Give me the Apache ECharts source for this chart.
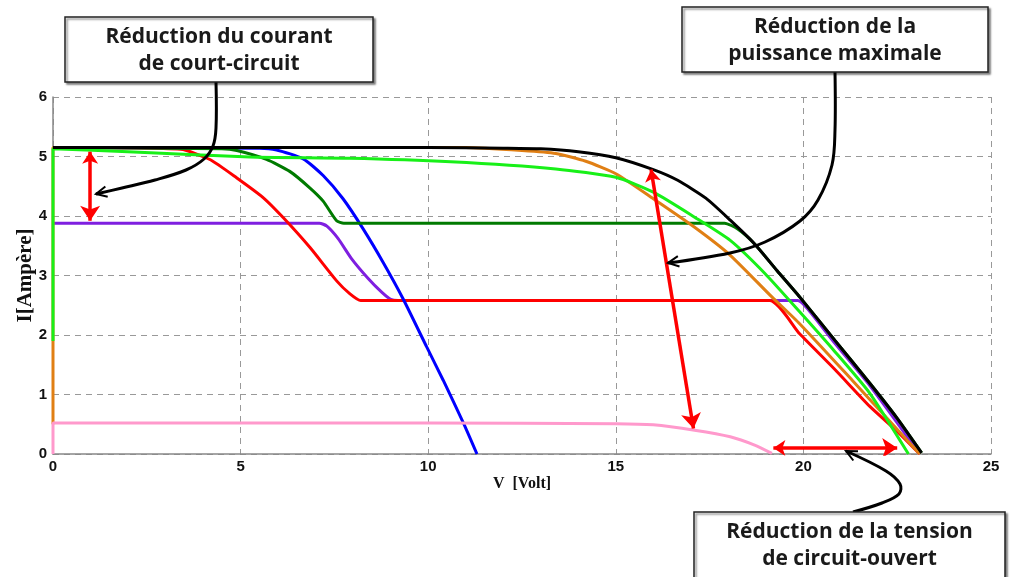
<!DOCTYPE html>
<html>
<head>
<meta charset="utf-8">
<script src="https://cdn.jsdelivr.net/npm/echarts@6/dist/echarts.min.js"></script>
<style>
html,body{margin:0;padding:0;background:#fff;}
#chart{width:1011px;height:577px;}
</style>
</head>
<body>
<div id="chart"></div>
<script>
// ---- Data ----
const xTicks = [0, 5, 10, 15, 20, 25];
const yTicks = [0, 1, 2, 3, 4, 5, 6];

const curveBlack = [[0,5.15],[10,5.15],[12,5.14],[13,5.13],[14,5.08],[15,4.98],[16,4.78],[16.65,4.6],[17.4,4.3],[18.05,3.93],[18.7,3.53],[19.3,3.08],[19.9,2.64],[20.84,1.91],[21.77,1.19],[22.5,0.6],[23.15,0.02]];
const curveOrange = [[0,0.5],[0,5.15],[11,5.15],[12.5,5.1],[13.4,5.05],[14.2,4.92],[15,4.71],[16,4.29],[17.1,3.81],[18.05,3.34],[19.16,2.64],[19.9,2.19],[21.3,1.24],[22.2,0.62],[23.1,0]];
const curveGreen = [[0,1.9],[0,5.13],[2,5.08],[5.25,4.99],[7.9,4.97],[10.6,4.91],[13.4,4.79],[15,4.65],[16,4.4],[17.1,3.98],[18.05,3.59],[18.98,3.03],[19.9,2.39],[20.84,1.72],[21.77,1.02],[22.8,0]];
const curveDarkGreen = [[0,5.15],[4.5,5.13],[4.9,5.1],[5.69,4.95],[6.31,4.75],[6.85,4.47],[7.2,4.25],[7.56,3.92],[7.75,3.88],[17.9,3.88],[18.25,3.78],[18.7,3.53],[19.3,3.08],[19.9,2.64],[20.84,1.91],[21.77,1.19],[22.5,0.6],[23.15,0.02]];
const curveBlue = [[0,5.15],[5.5,5.14],[5.96,5.11],[6.67,4.96],[7.2,4.68],[7.73,4.29],[8.27,3.78],[8.8,3.22],[9.33,2.61],[9.96,1.80],[10.4,1.24],[10.94,0.52],[11.3,0]];
const curveRed = [[0,5.15],[3.4,5.12],[4.18,4.95],[4.9,4.64],[5.6,4.31],[6.14,3.97],[6.85,3.47],[7.56,2.91],[7.9,2.7],[8.2,2.58],[19.1,2.58],[19.9,2.02],[20.84,1.42],[21.77,0.8],[22.5,0.38],[23.1,0]];
const curvePurple = [[0,3.88],[7.1,3.88],[7.3,3.83],[7.6,3.62],[7.96,3.28],[8.4,2.95],[8.76,2.72],[9.0,2.6],[9.2,2.58],[19.85,2.58],[20.1,2.45],[20.84,1.86],[21.77,1.15],[23.1,0]];
const curvePink = [[0,0],[0,0.52],[10,0.52],[15,0.51],[16,0.49],[17.1,0.40],[18.05,0.29],[18.7,0.15],[19.16,0.01]];

// red double arrows (data coordinates)
const arrowIsc = [[0.99,5.08],[0.99,3.92]];
const arrowPmax = [[15.94,4.78],[17.07,0.43]];
const arrowVoc = [[19.2,0.1],[22.5,0.1]];

const xLabel = 'V  [Volt]';
const yLabel = 'I[Ampère]';
const boxTexts = [
  ['Réduction du courant', 'de court-circuit'],
  ['Réduction de la', 'puissance maximale'],
  ['Réduction de la tension', 'de circuit-ouvert']
];

// ---- Layout of the callouts (pixels) ----
const boxRects = [
  {x:65, y:17, w:308, h:65},
  {x:682, y:7, w:306, h:65},
  {x:694, y:512, w:311, h:70}
];
const calloutPaths = [
  [[216,82],[216,128],[213,146],[204,159],[186,170],[155,180],[122,188],[96,194]],
  [[835,72],[835,130],[832,165],[818,200],[800,221],[765,242],[730,253],[668,263]],
  [[853,512],[882,503],[899,494],[900,484],[886,471],[846,451]]
];

function arrowHead(path, len, ang) {
  const tip = path[path.length-1], from = path[path.length-2];
  const dx = from[0]-tip[0], dy = from[1]-tip[1];
  const d = Math.hypot(dx,dy), ux = dx/d, uy = dy/d;
  const rot = a => [tip[0]+len*(ux*Math.cos(a)-uy*Math.sin(a)), tip[1]+len*(ux*Math.sin(a)+uy*Math.cos(a))];
  return [rot(ang), tip, rot(-ang)];
}

const graphics = [];
boxRects.forEach((r, i) => {
  graphics.push({
    type:'rect', shape:{x:r.x, y:r.y, width:r.w, height:r.h},
    style:{fill:'#fff', stroke:'#222', lineWidth:1.5, shadowColor:'rgba(0,0,0,0.45)', shadowOffsetX:2, shadowOffsetY:2, shadowBlur:2},
    z:100
  });
  boxTexts[i].forEach((t, j) => {
    graphics.push({
      type:'text', x:r.x + r.w/2, y:r.y + 20 + j*27,
      style:{text:t, fill:'#1a1a1a', font:'bold 21px "Open Sans", sans-serif', textAlign:'center', textVerticalAlign:'middle'},
      z:101
    });
  });
});
calloutPaths.forEach(p => {
  graphics.push({type:'polyline', shape:{points:p, smooth:0.35}, style:{stroke:'#000', lineWidth:3, fill:null}, z:90});
  graphics.push({type:'polyline', shape:{points:arrowHead(p, 12, 0.45)}, style:{stroke:'#000', lineWidth:2, fill:null}, z:91});
});

function lineSeries(name, data, color, z) {
  return {
    name, type:'line', data, showSymbol:false, symbol:'none', smooth:0.2,
    lineStyle:{color, width:3}, z, animation:false
  };
}
function arrowSeries(coords) {
  return {
    type:'lines', coordinateSystem:'cartesian2d', z:20, animation:false,
    symbol:['arrow','arrow'], symbolSize:[12,15],
    lineStyle:{color:'#ff0000', width:3.5, opacity:1},
    data:[{coords}]
  };
}

const chart = echarts.init(document.getElementById('chart'), null, {renderer:'canvas'});
chart.setOption({
  animation:false,
  backgroundColor:'#fff',
  grid:{left:53, right:20, top:97, bottom:123, containLabel:false, outerBoundsMode:'none'},
  xAxis:{
    type:'value', min:0, max:25, interval:5,
    name:xLabel, nameLocation:'middle', nameGap:22, nameMoveOverlap:false,
    nameTextStyle:{fontFamily:'Liberation Serif', fontWeight:'bold', fontSize:16, color:'#111'},
    axisLine:{show:true, onZero:false, lineStyle:{color:'#888', width:1.5}},
    axisTick:{show:false},
    axisLabel:{color:'#111', fontFamily:'Liberation Sans', fontWeight:'bold', fontSize:15, margin:5,
      formatter:v => xTicks.includes(v) ? String(v) : ''},
    splitLine:{show:true, lineStyle:{color:'#999', type:[6,5], width:1}}
  },
  yAxis:{
    type:'value', min:0, max:6, interval:1,
    name:yLabel, nameLocation:'middle', nameGap:17, nameRotate:90, nameMoveOverlap:false,
    nameTextStyle:{fontFamily:'Liberation Serif', fontWeight:'bold', fontSize:21, color:'#111'},
    axisLine:{show:true, onZero:false, lineStyle:{color:'#888', width:1.5}},
    axisTick:{show:false},
    axisLabel:{color:'#111', fontFamily:'Liberation Sans', fontWeight:'bold', fontSize:15, margin:6,
      formatter:v => yTicks.includes(v) ? String(v) : ''},
    splitLine:{show:true, lineStyle:{color:'#999', type:[6,5], width:1}}
  },
  series:[
    lineSeries('purple', curvePurple, '#7f1fe0', 2),
    lineSeries('red', curveRed, '#ff0000', 3),
    lineSeries('blue', curveBlue, '#0000ff', 4),
    lineSeries('darkgreen', curveDarkGreen, '#007a00', 5),
    lineSeries('orange', curveOrange, '#e07f14', 6),
    lineSeries('green', curveGreen, '#18f018', 7),
    lineSeries('pink', curvePink, '#ff99cc', 8),
    lineSeries('black', curveBlack, '#000000', 9),
    arrowSeries(arrowIsc),
    arrowSeries(arrowPmax),
    arrowSeries(arrowVoc)
  ],
  graphic:graphics
});
</script>
</body>
</html>
